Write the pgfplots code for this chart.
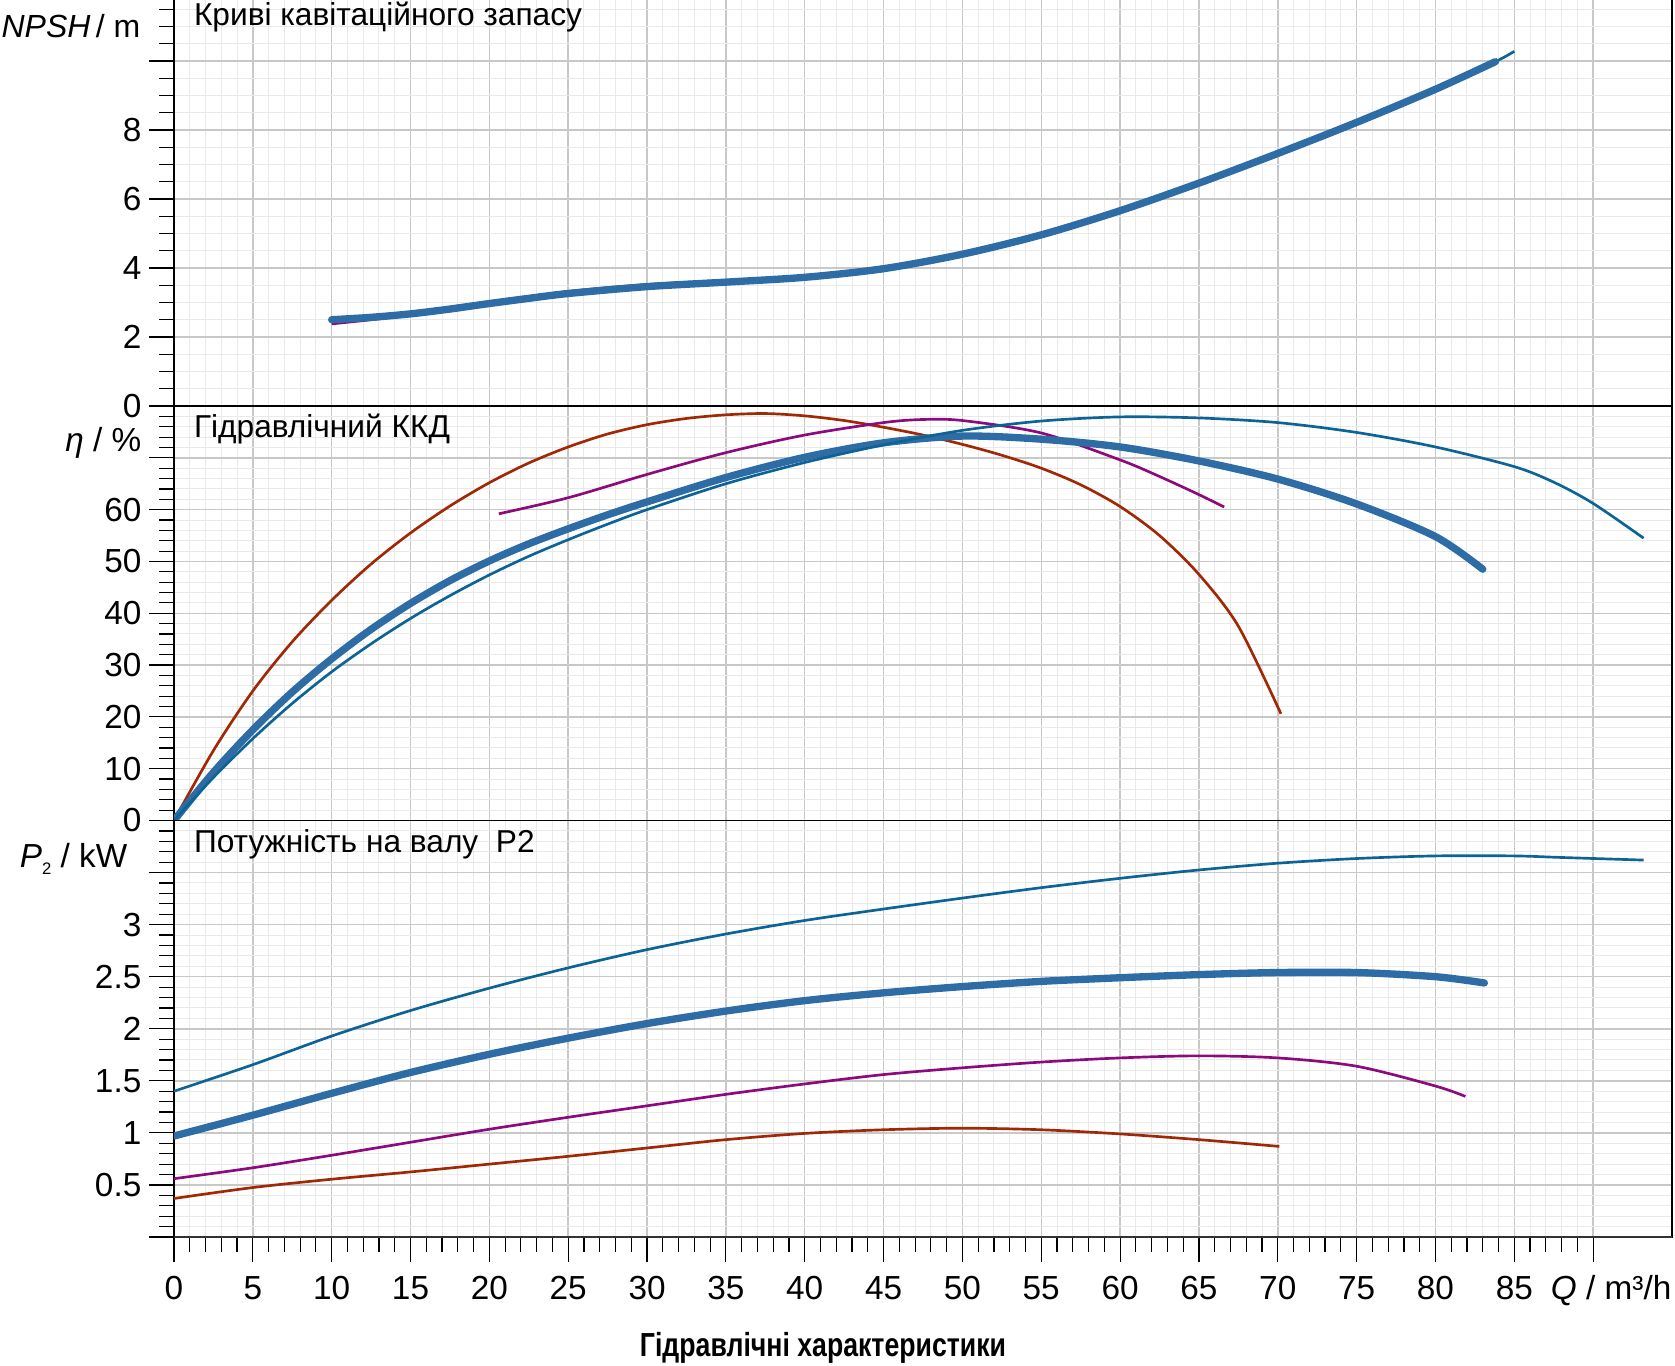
\documentclass[border=0pt]{standalone}
\usepackage{fontspec}
\setmainfont{Liberation Sans}
\newfontfamily\titlefont{Liberation Sans Bold}[FakeStretch=0.8]
\usepackage{pgfplots}
\pgfplotsset{compat=1.18}

\definecolor{thickblue}{RGB}{46,108,166}
\definecolor{thinblue}{RGB}{12,100,150}
\definecolor{npurple}{RGB}{140,10,125}
\definecolor{nred}{RGB}{160,40,5}
\definecolor{gridmajor}{RGB}{200,200,200}
\definecolor{gridminor}{RGB}{233,233,233}

\pgfplotsset{
  panel/.style={
    scale only axis, width=449.4pt, anchor=south west,
    xmin=0, xmax=95,
    xtick={0,5,...,90}, minor x tick num=4,
    grid=both,
    major grid style={gridmajor, line width=0.45pt},
    minor grid style={gridminor, line width=0.3pt},
    tick align=outside,
    xtick pos=bottom, ytick pos=left,
    major tick length=7.5pt, minor tick length=4.5pt,
    every tick/.style={black, line width=0.35pt},
    axis line style={black, line width=0.4pt},
    tick label style={font=\fontsize{10}{12}\selectfont},
    /pgf/number format/assume math mode=true,
    yticklabel style={anchor=east, inner sep=0pt, xshift=-2.1pt},
  },
  upper/.style={xticklabels={}, xtick style={draw=none}},
  thick curve/.style={thickblue, line width=2.2pt, line cap=round, smooth},
  thin curve/.style={thinblue, line width=0.8pt, smooth},
  purple curve/.style={npurple, line width=0.8pt, smooth},
  red curve/.style={nred, line width=0.8pt, smooth},
}
\tikzset{
  panel title/.style={anchor=base west, inner sep=0pt, font=\fontsize{9.5}{11}\selectfont},
}

\begin{document}
\begin{tikzpicture}[font=\fontsize{10}{12}\selectfont]

% NPSH
\begin{axis}[panel, upper, at={(0pt,249.3pt)}, height=124.2pt,
  ymin=0, ymax=12, ytick={0,2,...,12}, yticklabels={0,2,4,6,8,{},{}},
  minor y tick num=3]
\addplot[purple curve] coordinates {
 (10,2.38) (12.5,2.5) (15,2.64) (20,3.0) (25,3.32) (30,3.52) (35,3.64)
 (40,3.77) (45,4.02) (50,4.42) (55,4.97) (60,5.68) (65,6.48) (70,7.33)
 (75,8.22) (80,9.18) (82,9.6)};
\addplot[thin curve] coordinates {
 (10,2.5) (12.5,2.57) (15,2.67) (17.5,2.81) (20,2.97) (22.5,3.12) (25,3.26)
 (30,3.46) (35,3.59) (40,3.73) (45,3.98) (50,4.4) (55,4.96) (60,5.66)
 (65,6.46) (70,7.32) (75,8.22) (80,9.18) (83.8,9.98) (85,10.28)};
\addplot[thick curve] coordinates {
 (10,2.5) (12.5,2.57) (15,2.67) (17.5,2.81) (20,2.97) (22.5,3.12) (25,3.26)
 (30,3.46) (35,3.59) (40,3.73) (45,3.98) (50,4.4) (55,4.96) (60,5.66)
 (65,6.46) (70,7.32) (75,8.22) (80,9.18) (83.8,9.98)};
\end{axis}

% efficiency
\begin{axis}[panel, upper, at={(0pt,124.95pt)}, height=124.35pt,
  ymin=0, ymax=80, ytick={0,10,...,80}, yticklabels={0,10,20,30,40,50,60,{},{}},
  minor y tick num=4]
\addplot[red curve] coordinates {
 (0,0) (2.5,13.5) (5,25) (7.5,34.5) (10,42.5) (12.5,49.5) (15,55.5)
 (17.5,60.7) (20,65.2) (22.5,69) (25,72.1) (27.5,74.6) (30,76.4)
 (32.5,77.6) (35,78.3) (37.5,78.55) (40,78.1) (42.5,77.2) (45,75.9)
 (47.5,74.4) (50,72.6) (52.5,70.5) (55,68) (57.5,64.8) (60,60.6)
 (62.5,55) (65,47.5) (67.5,37.5) (70.2,20.6)};
\addplot[purple curve] coordinates {
 (20.6,59.2) (25,62.3) (30,66.8) (35,71) (40,74.4) (45,76.8) (47.5,77.4)
 (50,77.2) (55,74.8) (60,69.6) (62.5,66.4) (65,62.9) (66.6,60.5)};
\addplot[thick curve] coordinates {
 (0,0) (2.5,9.3) (5,17.5) (7.5,24.8) (10,31.2) (12.5,36.9) (15,41.9)
 (17.5,46.3) (20,50.1) (22.5,53.4) (25,56.3) (27.5,59) (30,61.5)
 (35,66.2) (40,70.1) (45,72.9) (50,74.2) (55,73.6) (60,72.1)
 (65,69.4) (70,65.9) (75,61.1) (80,54.8) (83,48.5)};
\addplot[thin curve] coordinates {
 (0,0) (2.5,8.3) (5,15.8) (7.5,22.6) (10,28.7) (12.5,34.1) (15,39)
 (17.5,43.4) (20,47.4) (22.5,51) (25,54.2) (27.5,57.2) (30,60)
 (35,65) (40,69.1) (45,72.5) (50,75.3) (55,77.1) (60,77.9) (65,77.7)
 (70,76.8) (75,74.9) (80,72.1) (85,68.3) (87.5,65.3) (90,61.2) (93.2,54.5)};
\end{axis}

% shaft power
\begin{axis}[panel, at={(0pt,0pt)}, height=124.95pt,
  ymin=0, ymax=4, ytick={0,0.5,...,4}, yticklabels={{},0.5,1,1.5,2,2.5,3,{},{}},
  minor y tick num=4,
  xticklabels={0,5,10,15,20,25,30,35,40,45,50,55,60,65,70,75,80,85,{}},
  xticklabel style={anchor=base, inner sep=0pt, yshift=-11.1pt}]
\addplot[red curve] coordinates {
 (0,0.37) (5,0.475) (10,0.555) (15,0.625) (20,0.7) (25,0.775) (30,0.855)
 (35,0.935) (40,0.995) (45,1.03) (50,1.045) (55,1.03) (60,0.99) (65,0.935) (70.1,0.87)};
\addplot[purple curve] coordinates {
 (0,0.56) (5,0.665) (10,0.785) (15,0.91) (20,1.035) (25,1.15) (30,1.26)
 (35,1.37) (40,1.47) (45,1.56) (50,1.625) (55,1.68) (60,1.72) (65,1.74)
 (70,1.72) (75,1.64) (80,1.45) (81.9,1.35)};
\addplot[thick curve] coordinates {
 (0,0.97) (5,1.17) (10,1.38) (15,1.58) (20,1.755) (25,1.91) (30,2.05)
 (35,2.17) (40,2.27) (45,2.345) (50,2.405) (55,2.455) (60,2.49) (65,2.52)
 (70,2.54) (75,2.54) (80,2.5) (83.1,2.44)};
\addplot[thin curve] coordinates {
 (0,1.4) (5,1.655) (10,1.93) (15,2.175) (20,2.39) (25,2.585) (30,2.76)
 (35,2.91) (40,3.04) (45,3.15) (50,3.255) (55,3.355) (60,3.445) (65,3.525)
 (70,3.59) (75,3.635) (80,3.66) (85,3.66) (88,3.645) (93.2,3.62)};
\draw[black!80, line width=0.7pt] (rel axis cs:0,0) -- (rel axis cs:1,0);
\end{axis}

% axis captions and panel titles
\node[anchor=base east, inner sep=0pt, font=\fontsize{9.6}{11}\selectfont]
  at (-9.9pt,359.9pt) {\textit{NPSH}\,/ m};
\node[anchor=base east, inner sep=0pt] at (-9.6pt,235.5pt) {\textit{η} / \%};
\node[anchor=base east, inner sep=0pt] at (-13.8pt,110.85pt)
  {\textit{P}\raisebox{-0.4ex}{\fontsize{5}{6}\selectfont 2} / kW};
\node[panel title] at (5.8pt,363.4pt) {Криві кавітаційного запасу};
\node[panel title] at (5.8pt,239.7pt) {Гідравлічний ККД};
\node[panel title] at (5.8pt,115.35pt) {Потужність на валу\ \ P2};
\node[anchor=base east, inner sep=0pt] at (449.4pt,-18.6pt) {\textit{Q} / m³/h};
\node[anchor=base, inner sep=0pt] at (194.7pt,-35.9pt) {\titlefont Гідравлічні характеристики};

\pgfresetboundingbox
\useasboundingbox (-52.2pt,-38.4pt) rectangle (450.3pt,371.1pt);
\end{tikzpicture}
\end{document}
